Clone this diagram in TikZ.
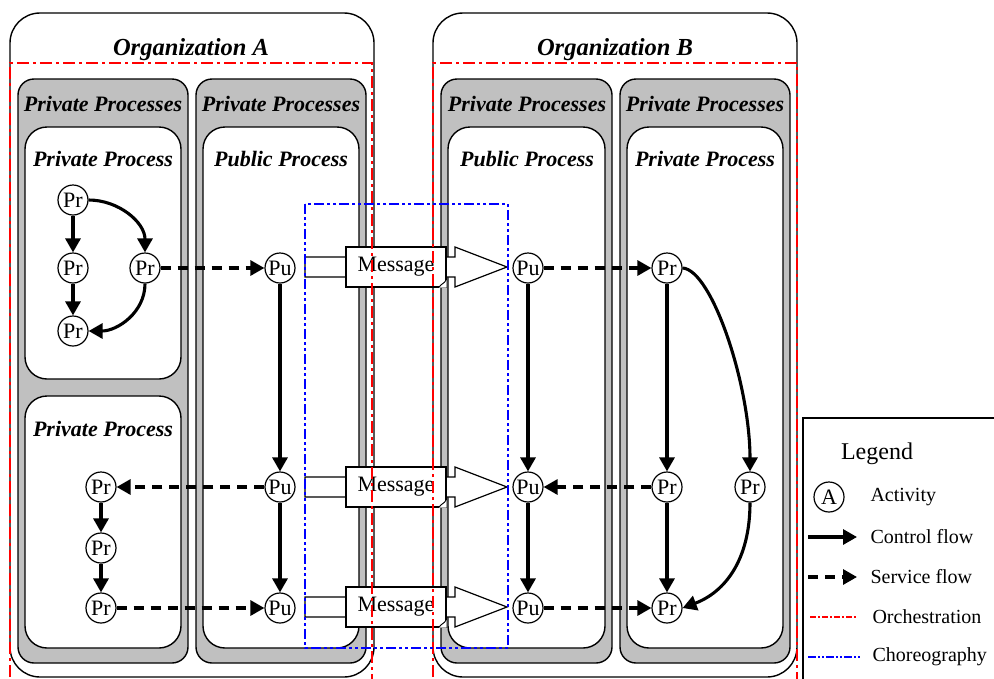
\documentclass[tikz,border=0pt]{standalone}
\usepackage{fontspec}
\setmainfont{Liberation Serif}
\usetikzlibrary{arrows.meta}
\definecolor{procgrey}{HTML}{C0C0C0}

\tikzset{
  orgbox/.style={draw, line width=1.4pt, rounded corners=30pt, fill=white},
  greybox/.style={draw, line width=1.4pt, rounded corners=16pt, fill=procgrey},
  innerbox/.style={draw, line width=1.4pt, rounded corners=22pt, fill=white},
  act/.style={circle, draw, line width=1.2pt, fill=white, minimum size=30pt,
    inner sep=0pt, font=\fontsize{22}{22}\selectfont},
  ctrl/.style={line width=3.1pt, -{Triangle[length=14pt,width=15pt]}},
  svc/.style={ctrl, dash pattern=on 10pt off 7pt},
  orch/.style={draw=red, line width=2.6pt, dash pattern=on 12pt off 4pt on 3pt off 4pt},
  chor/.style={draw=blue, line width=2.6pt,
    dash pattern=on 10pt off 3pt on 3pt off 3pt on 3pt off 3pt},
  orgtitle/.style={font=\fontsize{24.5}{24.5}\selectfont\bfseries\itshape},
  boxtitle/.style={font=\fontsize{22}{22}\selectfont\bfseries\itshape},
  legtext/.style={anchor=west, font=\fontsize{20}{20}\selectfont},
  msgarrow/.pic={
    \draw[line width=1.2pt, fill=white]
      (-101,-10) -- (49,-10) -- (49,-20) -- (101,0) -- (49,20) -- (49,10)
      -- (-101,10) -- cycle;
    \node[draw, line width=1.2pt, fill=white, minimum width=100pt,
      minimum height=40pt, inner sep=0pt, font=\fontsize{22}{22}\selectfont]
      (box) at (-10,0) {Message};
    % folded corner of the message sheet
    \fill[white] (33,20.6) -- (40.6,20.6) -- (40.6,13) -- cycle;
    \draw[line width=0.9pt] (33,20) .. controls (36,16) and (38,17) .. (40,13);
    \draw[line width=1.2pt] (40,13) -- (40,-20);
  }
}

\begin{document}
\begin{tikzpicture}[x=1pt, y=-1pt]
\useasboundingbox (0,0) rectangle (994,678);

% organisations
\draw[orgbox] (10,13) rectangle (374,677);
\draw[orgbox] (433,13) rectangle (797,677);
\node[orgtitle] (orgA) at (191,50) {Organization A};
\node[orgtitle] (orgB) at (615,50) {Organization B};

% grey process groups
\draw[greybox] (18,79) rectangle (188,663);
\draw[greybox] (196,79) rectangle (366,663);
\draw[greybox] (441,79) rectangle (612,663);
\draw[greybox] (620,79) rectangle (790,663);
\foreach \cx/\nm in {103/gA1, 281/gA2, 527/gB1, 705/gB2}
  \node[boxtitle] (\nm) at (\cx,104) {Private Processes};

% inner processes
\draw[innerbox] (25,127) rectangle (181,379);
\draw[innerbox] (25,396) rectangle (181,648);
\draw[innerbox] (203,127) rectangle (359,648);
\draw[innerbox] (448,127) rectangle (605,648);
\draw[innerbox] (627,127) rectangle (783,648);
\node[boxtitle] (tA1) at (103,159) {Private Process};
\node[boxtitle] (tA3) at (103,429) {Private Process};
\node[boxtitle] (tA2) at (281,159) {Public Process};
\node[boxtitle] (tB1) at (527,159) {Public Process};
\node[boxtitle] (tB2) at (705,159) {Private Process};

% activities of organization A
\node[act] (p1) at (73,200) {Pr};
\node[act] (p2) at (73,268) {Pr};
\node[act] (p3) at (145,268) {Pr};
\node[act] (p4) at (73,331) {Pr};
\node[act] (p5) at (101,487) {Pr};
\node[act] (p6) at (101,548) {Pr};
\node[act] (p7) at (101,608) {Pr};
\node[act] (u1) at (280,268) {Pu};
\node[act] (u2) at (280,487) {Pu};
\node[act] (u3) at (280,608) {Pu};

% activities of organization B
\node[act] (u4) at (528,268) {Pu};
\node[act] (u5) at (528,487) {Pu};
\node[act] (u6) at (528,608) {Pu};
\node[act] (q1) at (667,268) {Pr};
\node[act] (q2) at (667,487) {Pr};
\node[act] (q3) at (750,487) {Pr};
\node[act] (q4) at (667,608) {Pr};

% control flow
\draw[ctrl] (p1) -- (p2);
\draw[ctrl] (p2) -- (p4);
\draw[ctrl] (p1.east) to[out=0, in=90] (p3.north);
\draw[ctrl] (p3.south) to[out=-90, in=0] (p4.east);
\draw[ctrl] (p5) -- (p6);
\draw[ctrl] (p6) -- (p7);
\draw[ctrl] (u1) -- (u2);
\draw[ctrl] (u2) -- (u3);
\draw[ctrl] (u4) -- (u5);
\draw[ctrl] (u5) -- (u6);
\draw[ctrl] (q1) -- (q2);
\draw[ctrl] (q2) -- (q4);
\draw[ctrl] (q1.east) .. controls (712,270) and (750,385) .. (q3.north);
\draw[ctrl] (q3.south) .. controls (750,560) and (725,592) .. (q4.east);

% service flow
\draw[svc] (p3) -- (u1);
\draw[svc] (u2) -- (p5);
\draw[svc] (p7) -- (u3);
\draw[svc] (u4) -- (q1);
\draw[svc] (q2) -- (u5);
\draw[svc] (u6) -- (q4);

% messages between the public processes
\pic (m1) at (406,267) {msgarrow};
\pic (m2) at (406,487) {msgarrow};
\pic (m3) at (406,607) {msgarrow};

% orchestration and choreography scopes
\draw[orch] (10,700) -- (10,63) -- (372,63) -- (372,700);
\draw[orch] (433,700) -- (433,63) -- (797,63) -- (797,700);
\draw[chor] (305,204) rectangle (508,648);

% legend
\draw[line width=1.4pt, fill=white] (803,418) rectangle (1000,700);
\node[font=\fontsize{24}{24}\selectfont] (leg) at (877,454) {Legend};
\node[act] (la) at (829,497) {A};
\node[legtext] (lt1) at (867,497) {Activity};
\coordinate (c1) at (808,537); \coordinate (c2) at (857,537);
\draw[ctrl] (c1) -- (c2);
\node[legtext] (lt2) at (867,537) {Control flow};
\coordinate (s1) at (808,577); \coordinate (s2) at (857,577);
\draw[svc] (s1) -- (s2);
\node[legtext] (lt3) at (867,577) {Service flow};
\coordinate (o1) at (810,617); \coordinate (o2) at (857,617);
\draw[draw=red, line width=1.3pt, dash pattern=on 6pt off 2pt on 2pt off 2pt] (o1) -- (o2);
\node[legtext] (lt4) at (869,617) {Orchestration};
\coordinate (h1) at (808,657); \coordinate (h2) at (860,657);
\draw[draw=blue, line width=1.3pt, dash pattern=on 8pt off 2pt on 2pt off 2pt on 2pt off 2pt] (h1) -- (h2);
\node[legtext] (lt5) at (869,657) {Choreography};
\end{tikzpicture}
\end{document}
